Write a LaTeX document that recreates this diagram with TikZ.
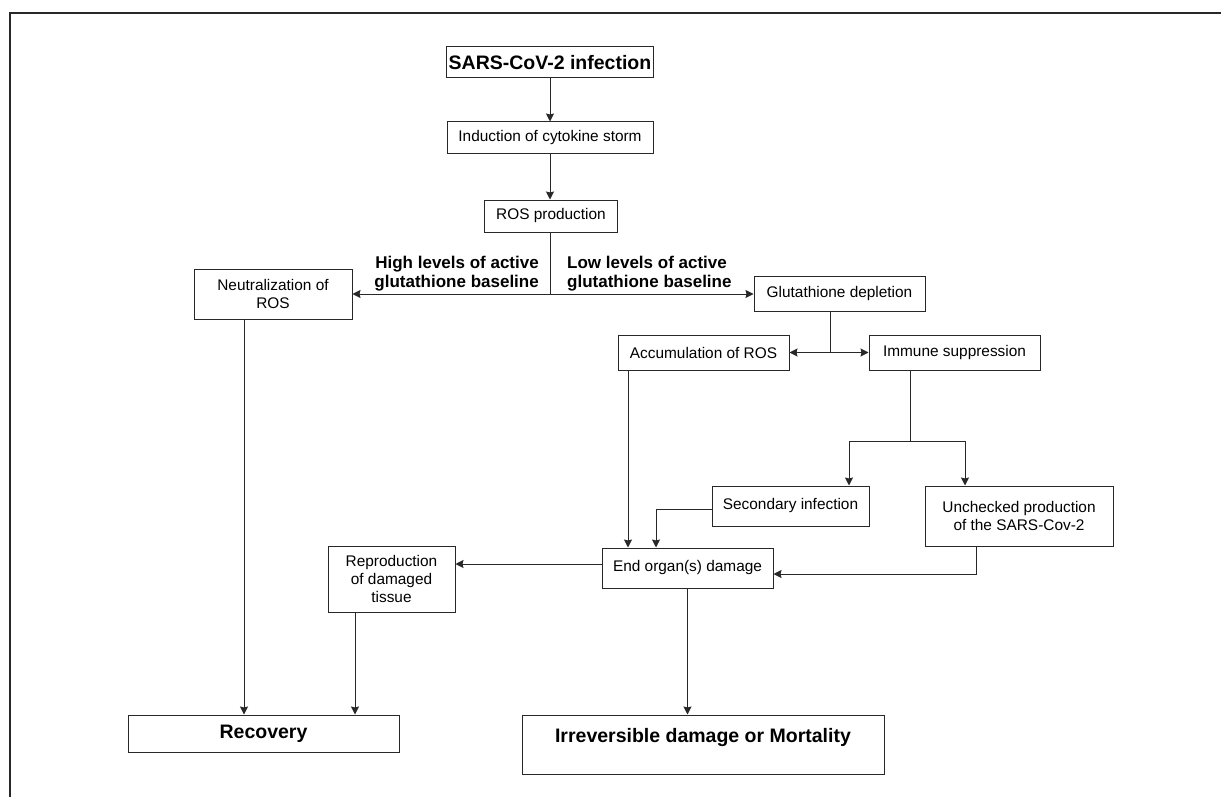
\documentclass[tikz,border=0pt]{standalone}
\usepackage{fontspec}
\setmainfont{Liberation Sans}
\usepackage{tikz}
\usetikzlibrary{arrows.meta,positioning}
\definecolor{lineblack}{RGB}{40,40,40}
\tikzstyle{box} = [rectangle, draw=lineblack, line width=1pt, text centered, align=center, inner sep=2pt, font=\fontsize{15.4}{18}\selectfont]
\tikzstyle{bigbox} = [box, inner sep=1pt, font=\fontsize{19.5}{22}\selectfont\bfseries]
\tikzstyle{branch} = [inner sep=0pt, font=\fontsize{17}{19}\selectfont\bfseries]
\tikzstyle{arrow} = [line width=1pt, color=lineblack, -{Stealth[length=8pt,width=8pt,inset=1pt]}]
\tikzstyle{line} = [line width=1pt, color=lineblack]

\begin{document}
\begin{tikzpicture}[x=1pt, y=-1pt]
\useasboundingbox (0,0) rectangle (1221,797);
% Frame
\draw[line width=1.3pt, color=lineblack] (1221,13) -- (10,13) -- (10,797);

% Top chain
\node[bigbox, minimum width=207pt, minimum height=31pt] (infection) at (550,62.5) {SARS-CoV-2 infection};
\node[box, minimum width=206pt, minimum height=32pt] (storm) at (550,138) {Induction of cytokine storm};
\node[box, minimum width=133pt, minimum height=32pt] (ros) at (551,216) {ROS production};

% Glutathione branches
\node[box, minimum width=158pt, minimum height=50pt] (neut) at (273,294) {Neutralization of\\ROS};
\node[box, minimum width=171pt, minimum height=35pt] (gsh) at (839.5,294) {Glutathione depletion};
\node[box, minimum width=171pt, minimum height=35pt] (accum) at (703.5,352.5) {Accumulation of ROS};
\node[box, minimum width=171pt, minimum height=35pt] (immune) at (954.5,352.5) {Immune suppression};
\node[box, minimum width=157pt, minimum height=40pt] (second) at (790.5,506) {Secondary infection};
\node[box, minimum width=188pt, minimum height=60pt] (unchecked) at (1019,516) {Unchecked production\\of the SARS-Cov-2};
\node[box, minimum width=171pt, minimum height=40pt] (organ) at (687.5,568) {End organ(s) damage};
\node[box, minimum width=127pt, minimum height=66pt] (repro) at (391.5,579) {Reproduction\\of damaged\\tissue};

% Outcomes
\node[bigbox, minimum width=271pt, minimum height=37pt] (recovery) at (263.5,733.5) {Recovery};
\node[bigbox, minimum width=362pt, minimum height=59pt, text depth=19pt] (mortality) at (703,744.5) {Irreversible damage or Mortality};

% Helper points
\coordinate (split1) at (550,294);
\coordinate (split2) at (830,352.5);
\coordinate (split3) at (910,441);
\coordinate (sec in) at (849,441);
\coordinate (unc in) at (965,441);
\coordinate (acc x) at (628,0);
\coordinate (sec x) at (656,0);
\coordinate (unc x) at (976,0);
\coordinate (neut x) at (244,0);
\coordinate (rep x) at (355,0);

% Branch labels
\node[branch, align=right, above left=3pt and 11pt of split1] (high) {High levels of active\\glutathione baseline};
\node[branch, align=left, above right=3pt and 17pt of split1] (low) {Low levels of active\\glutathione baseline};

% Arrows
\draw[arrow] (infection.south -| split1) -- (storm.north -| split1);
\draw[arrow] (storm.south -| split1) -- (ros.north -| split1);
\draw[line] (ros.south -| split1) -- (split1);
\draw[arrow] (split1) -- (neut.east);
\draw[arrow] (split1) -- (gsh.west);
\draw[line] (gsh.south -| split2) -- (split2);
\draw[arrow] (split2) -- (accum.east);
\draw[arrow] (split2) -- (immune.west);
\draw[line] (immune.south -| split3) -- (split3);
\draw[line] (sec in) -- (unc in);
\draw[arrow] (sec in) -- (second.north -| sec in);
\draw[arrow] (unc in) -- (unchecked.north -| unc in);
\draw[arrow] (accum.south -| acc x) -- (organ.north -| acc x);
\draw[arrow] ([yshift=-3pt]second.west) -| (organ.north -| sec x);
\draw[arrow] (unchecked.south -| unc x) |- ([yshift=-6pt]organ.east);
\draw[arrow] ([yshift=4pt]organ.west) -- ([yshift=4pt]organ.west -| repro.east);
\draw[arrow] (organ.south) -- (organ.south |- mortality.north);
\draw[arrow] (neut.south -| neut x) -- (recovery.north -| neut x);
\draw[arrow] (repro.south -| rep x) -- (recovery.north -| rep x);
\end{tikzpicture}
\end{document}
